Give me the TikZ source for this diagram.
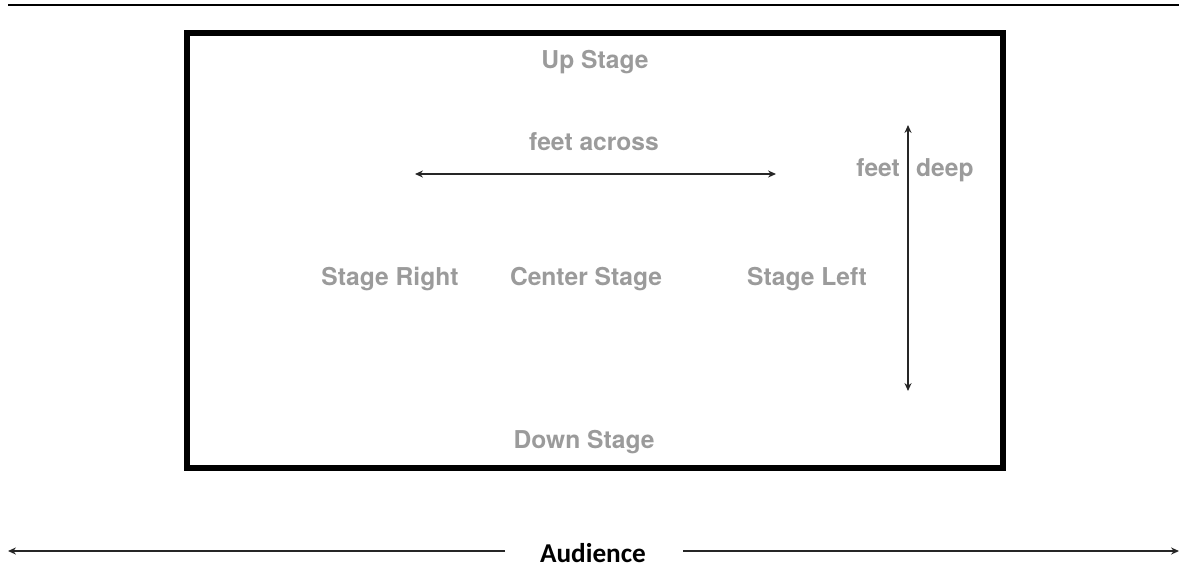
\documentclass[tikz,border=0pt]{standalone}
\usepackage{fontspec}
\setmainfont{TeX Gyre Heros}
\newfontfamily\audfont{Carlito}
\usetikzlibrary{arrows.meta}

\definecolor{stagegray}{RGB}{155,155,155}
\tikzset{
	area/.style={font=\bfseries\fontsize{14}{16}\selectfont, text=stagegray, inner sep=1pt},
	measure/.style={{Stealth[length=4.5pt,width=4pt]}-{Stealth[length=4.5pt,width=4pt]}, line width=0.9pt, draw=black!85},
	oneway/.style={-{Stealth[length=4.5pt,width=4pt]}, line width=0.9pt, draw=black!85}
}

\begin{document}
\begin{tikzpicture}[x=0.02cm, y=-0.02cm]
	\useasboundingbox (0,0) rectangle (1179,569);

	% back wall and stage
	\coordinate (wallL) at (8,5);
	\coordinate (wallR) at (1179,5);
	\draw[line width=1.7pt] (wallL) -- (wallR);
	\draw[line width=3.4pt] (187,33) rectangle (1003,468);

	\node[area] (up)     at (595, 62) {Up Stage};
	\node[area] (across) at (594,142) {feet across};
	\node[area] (right)  at (390,279) {Stage Right};
	\node[area] (center) at (586,279) {Center Stage};
	\node[area] (left)   at (807,279) {Stage Left};
	\node[area] (down)   at (584,442) {Down Stage};
	\node[area, anchor=base east] (feet) at (902,176) {feet};
	\node[area, anchor=base west] (deep) at (914,176) {deep};

	% measures
	\coordinate (acrossA) at (415,174);
	\coordinate (acrossB) at (776,174);
	\draw[measure] (acrossA) -- (acrossB);
	\coordinate (deepA) at (908,125);
	\coordinate (deepB) at (908,391);
	\draw[measure] (deepA) -- (deepB);

	% audience
	\node[font=\audfont\bfseries\fontsize{15.5}{18}\selectfont, inner sep=0pt, anchor=base] (aud) at (593,562) {Audience};
	\coordinate (audL)  at (505,551);
	\coordinate (audLL) at (8,551);
	\coordinate (audR)  at (683,551);
	\coordinate (audRR) at (1179,551);
	\draw[oneway] (audL) -- (audLL);
	\draw[oneway] (audR) -- (audRR);
\end{tikzpicture}
\end{document}
